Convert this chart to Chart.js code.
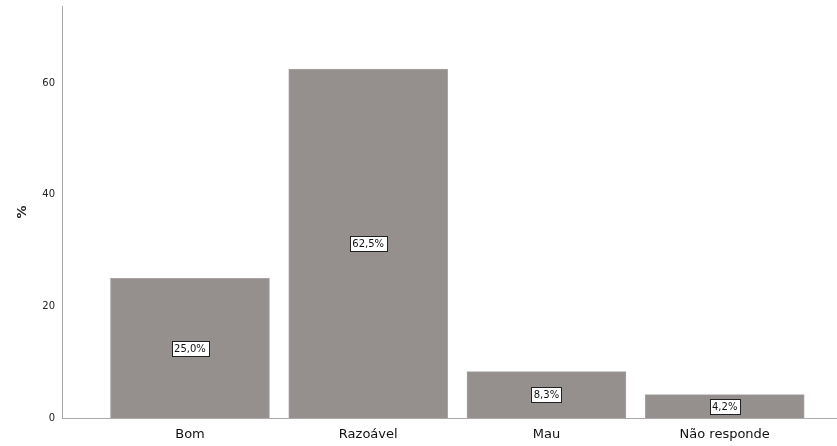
<!DOCTYPE html>
<html>
<head>
<meta charset="utf-8">
<script src="https://cdn.jsdelivr.net/npm/chart.js@4.4.1/dist/chart.umd.min.js"></script>
<style>
html,body{margin:0;padding:0;background:#fff;}
#wrap{width:837px;height:446px;position:relative;}
</style>
</head>
<body>
<div id="wrap"><canvas id="c" width="837" height="446"></canvas></div>
<script>
const categories = ["Bom", "Razoável", "Mau", "Não responde"];
const percentages = [25.0, 62.5, 8.3, 4.2];
const valueLabels = ["25,0%", "62,5%", "8,3%", "4,2%"];
const yTicks = [0, 20, 40, 60];

const barLabelPlugin = {
  id: 'barLabels',
  afterDatasetsDraw(chart) {
    const ctx = chart.ctx;
    const meta = chart.getDatasetMeta(0);
    ctx.save();
    ctx.font = '10px "DejaVu Sans"';
    ctx.textAlign = 'center';
    ctx.textBaseline = 'middle';
    meta.data.forEach((bar, i) => {
      const txt = valueLabels[i];
      const cx = bar.x;
      const cy = (bar.y + bar.base) / 2;
      const w = ctx.measureText(txt).width + 5;
      const h = 15;
      ctx.fillStyle = '#fff';
      ctx.fillRect(Math.round(cx - w / 2) + 0.5, Math.round(cy - h / 2) + 0.5, Math.round(w), h);
      ctx.strokeStyle = '#222';
      ctx.lineWidth = 1;
      ctx.strokeRect(Math.round(cx - w / 2) + 0.5, Math.round(cy - h / 2) + 0.5, Math.round(w), h);
      ctx.fillStyle = '#111';
      ctx.fillText(txt, cx, cy + 1);
    });
    ctx.restore();
  }
};

new Chart(document.getElementById('c'), {
  type: 'bar',
  data: {
    datasets: [{
      data: percentages.map((v, i) => ({ x: i, y: v })),
      backgroundColor: '#958f8e',
      borderColor: '#a9a4a3',
      borderWidth: 1,
      barThickness: 159
    }]
  },
  options: {
    responsive: false,
    animation: false,
    layout: { padding: { top: 6, right: 0, left: 0, bottom: 0 } },
    plugins: { legend: { display: false }, tooltip: { enabled: false } },
    scales: {
      x: {
        type: 'linear',
        offset: false,
        min: -0.718,
        max: 3.63,
        grid: { display: false, drawTicks: false, offset: false },
        border: { display: true, color: '#aaaaaa', width: 1 },
        afterBuildTicks(scale) { scale.ticks = categories.map((c, i) => ({ value: i })); },
        ticks: {
          autoSkip: false,
          maxRotation: 0,
          padding: 9,
          color: '#111',
          font: { family: '"DejaVu Sans"', size: 13 },
          callback: (v) => categories[v]
        },
        afterFit(scale) { scale.height = 28; scale.paddingLeft = 0; scale.paddingRight = 0; }
      },
      y: {
        min: 0,
        max: 73.8,
        grid: { display: false, drawTicks: false },
        border: { display: true, color: '#aaaaaa', width: 1 },
        afterBuildTicks(scale) { scale.ticks = yTicks.map(v => ({ value: v })); },
        ticks: {
          padding: 7,
          color: '#222',
          font: { family: '"DejaVu Sans"', size: 10 }
        },
        title: {
          display: true,
          text: '%',
          color: '#222',
          font: { family: '"DejaVu Sans"', size: 13, weight: 'bold' },
          padding: { top: 15, bottom: 0 }
        },
        afterFit(scale) { scale.width = 62; scale.paddingTop = 0; scale.paddingBottom = 0; }
      }
    }
  },
  plugins: [barLabelPlugin]
});
</script>
</body>
</html>
